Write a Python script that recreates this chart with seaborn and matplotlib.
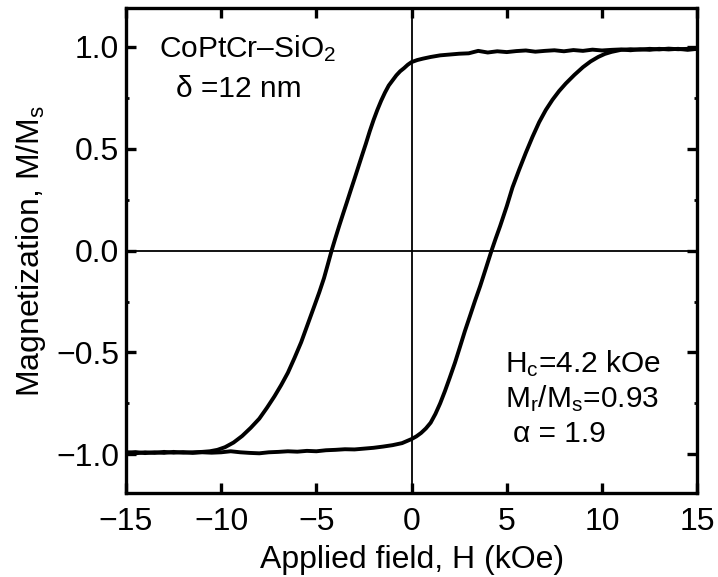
import matplotlib
matplotlib.use("Agg")
import matplotlib.pyplot as plt
from matplotlib.ticker import MultipleLocator
import seaborn as sns
import pandas as pd

# Descending branch of the loop (field swept from +15 to -15 kOe)
desc_H = [15.0, 14.5, 14.0, 13.5, 13.0, 12.5, 12.0, 11.5, 11.0, 10.5, 10.0, 9.5,
          9.0, 8.5, 8.0, 7.5, 7.0, 6.5, 6.0, 5.5, 5.0, 4.5, 4.0, 3.5, 3.0, 2.5,
          2.0, 1.5, 1.0, 0.6, 0.3, 0.0, -0.2, -0.4, -0.6, -0.8, -1.0, -1.2, -1.4,
          -1.6, -1.8, -2.0, -2.2, -2.4, -2.6, -2.8, -3.0, -3.2, -3.4, -3.6, -3.8,
          -4.0, -4.2, -4.4, -4.6, -4.85, -5.1, -5.45, -5.8, -6.15, -6.5, -6.85,
          -7.2, -7.6, -8.0, -8.45, -8.9, -9.35, -9.8, -10.2, -10.6, -11.0, -11.5,
          -12.0, -12.5, -13.0, -13.5, -14.0, -14.5, -15.0]
desc_M = [0.990, 0.985, 0.990, 0.987, 0.990, 0.985, 0.988, 0.983, 0.987, 0.985,
          0.982, 0.986, 0.980, 0.984, 0.978, 0.983, 0.980, 0.976, 0.982, 0.979,
          0.974, 0.978, 0.972, 0.980, 0.968, 0.966, 0.962, 0.958, 0.950, 0.942,
          0.935, 0.925, 0.912, 0.895, 0.880, 0.860, 0.835, 0.810, 0.775, 0.735,
          0.690, 0.640, 0.585, 0.525, 0.468, 0.410, 0.352, 0.295, 0.237, 0.180,
          0.122, 0.062, 0.000, -0.068, -0.135, -0.205, -0.270, -0.360, -0.450,
          -0.527, -0.600, -0.660, -0.715, -0.772, -0.825, -0.870, -0.910, -0.942,
          -0.965, -0.978, -0.985, -0.988, -0.990, -0.992, -0.988, -0.993, -0.990,
          -0.994, -0.989, -0.992]

# Ascending branch of the loop (field swept from -15 to +15 kOe)
asc_H = [-15.0, -14.5, -14.0, -13.5, -13.0, -12.5, -12.0, -11.5, -11.0, -10.5,
         -10.0, -9.5, -9.0, -8.5, -8.0, -7.5, -7.0, -6.5, -6.0, -5.5, -5.0, -4.5,
         -4.0, -3.5, -3.0, -2.5, -2.0, -1.5, -1.0, -0.5, 0.0, 0.25, 0.5, 0.75, 1.0,
         1.25, 1.5, 1.75, 2.0, 2.28, 2.55, 2.8, 3.07, 3.33, 3.6, 3.9, 4.2, 4.42,
         4.65, 5.0, 5.3, 5.65, 6.0, 6.35, 6.7, 7.05, 7.4, 7.75, 8.1, 8.55, 9.0,
         9.4, 9.8, 10.15, 10.5, 11.0, 11.5, 12.0, 12.5, 13.0, 13.5, 14.0, 14.5,
         15.0]
asc_M = [-0.990, -0.995, -0.990, -0.993, -0.988, -0.992, -0.989, -0.993, -0.990,
         -0.992, -0.990, -0.985, -0.990, -0.993, -0.995, -0.990, -0.988, -0.985,
         -0.987, -0.983, -0.985, -0.980, -0.978, -0.975, -0.976, -0.972, -0.968,
         -0.962, -0.955, -0.945, -0.925, -0.912, -0.895, -0.873, -0.845, -0.802,
         -0.750, -0.690, -0.625, -0.550, -0.470, -0.395, -0.320, -0.247, -0.175,
         -0.088, 0.000, 0.060, 0.120, 0.218, 0.310, 0.397, 0.480, 0.558, 0.630,
         0.690, 0.740, 0.783, 0.820, 0.862, 0.900, 0.928, 0.950, 0.965, 0.975,
         0.985, 0.988, 0.986, 0.990, 0.987, 0.991, 0.988, 0.990, 0.989]

x_ticks = [-15, -10, -5, 0, 5, 10, 15]
y_ticks = [-1.0, -0.5, 0.0, 0.5, 1.0]

sns.set_theme(style="ticks")
plt.rcParams.update({
    "font.family": ["Liberation Sans", "DejaVu Sans"],
    "mathtext.fontset": "custom",
    "mathtext.rm": "Liberation Sans",
    "mathtext.it": "Liberation Sans:italic",
    "mathtext.default": "regular",
    "axes.edgecolor": "black",
    "axes.linewidth": 2.4,
    "xtick.color": "black",
    "ytick.color": "black",
    "text.color": "black",
    "axes.labelcolor": "black",
})

desc = pd.DataFrame({"H": desc_H, "M": desc_M})
asc = pd.DataFrame({"H": asc_H, "M": asc_M})

fig = plt.figure(figsize=(7.18, 5.77), dpi=100)
ax = fig.add_axes([0.1755, 0.1455, 0.7955, 0.8405])

# zero reference lines
ax.axhline(0, color="black", lw=1.3, zorder=1)
ax.axvline(0, color="black", lw=1.3, zorder=1)

for branch in (desc, asc):
    sns.lineplot(data=branch, x="H", y="M", sort=False, estimator=None,
                 color="black", lw=2.8, ax=ax, zorder=3,
                 solid_joinstyle="round", solid_capstyle="round")

ax.set_xlim(-15, 15)
ax.set_ylim(-1.19, 1.19)
ax.set_xticks(x_ticks)
ax.set_yticks(y_ticks)
ax.set_xticklabels(["\u2212" + str(abs(v)) if v < 0 else str(v) for v in x_ticks])
ax.set_yticklabels([("\u2212" if v < 0 else "") + f"{abs(v):.1f}" for v in y_ticks])
ax.yaxis.set_minor_locator(MultipleLocator(0.25))

ax.tick_params(axis="x", which="major", direction="in", length=7, width=2.4,
               labelsize=23, top=True, bottom=True, pad=10)
ax.tick_params(axis="y", which="major", direction="in", length=7, width=2.4,
               labelsize=23, left=True, right=True, pad=5)
ax.tick_params(axis="y", which="minor", direction="in", length=2.5, width=2.0,
               left=True, right=True)
ax.tick_params(axis="x", which="minor", bottom=False, top=False)

ax.set_xlabel("Applied field, H (kOe)", fontsize=23, labelpad=6)
ax.set_ylabel("Magnetization, M/M$_s$", fontsize=23, labelpad=6)

ax.text(-8.6, 0.95, "CoPtCr\u2013SiO$_2$", fontsize=21.5, ha="center", va="baseline")
ax.text(-9.1, 0.755, "\u03b4 =12 nm", fontsize=21.5, ha="center", va="baseline")

ax.text(4.9, -0.598, "H$_c$=4.2 kOe", fontsize=21.5, ha="left", va="baseline")
ax.text(4.9, -0.77, "M$_r$/M$_s$=0.93", fontsize=21.5, ha="left", va="baseline")
ax.text(5.3, -0.94, "\u03b1 = 1.9", fontsize=21.5, ha="left", va="baseline")

fig.savefig("out.png", dpi=100, facecolor="white")
